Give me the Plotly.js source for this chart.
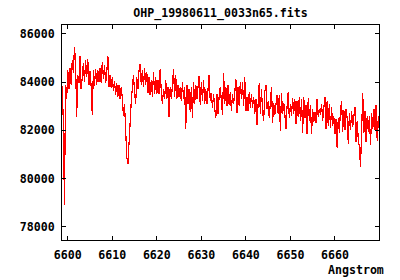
<!DOCTYPE html>
<html>
<head>
<meta charset="utf-8">
<script src="https://cdn.plot.ly/plotly-3.0.1.min.js"></script>
<style>
html,body{margin:0;padding:0;background:#fff;}
#chart{width:400px;height:280px;}
#chart .js-line{shape-rendering:crispEdges;}
#chart .xaxislayer-above text, #chart .yaxislayer-above text{text-rendering:optimizeSpeed;}
</style>
</head>
<body>
<div id="chart"></div>
<script>
// Spectrum sampling (FITS-style linear wavelength grid)
const CRVAL1 = 6598.75;   // Angstrom of first sample
const CDELT1 = 0.25;      // Angstrom per sample

// Flux values
const flux = [
  83850, 82300, 78900, 83880, 83300, 84500, 83700, 84580, 83900, 84900,
  84400, 85450, 84800, 82570, 84300, 83950, 85100, 83700, 84200, 84800,
  84000, 84900, 84200, 84950, 83900, 84450, 83800, 82650, 84500, 83850,
  84550, 83900, 84500, 84000, 84600, 83950, 84850, 84150, 84700, 83950,
  84400, 85100, 83800, 84300, 83750, 84200, 83650, 84050, 83450, 83950,
  83400, 83900, 83300, 83800, 83350, 82600, 83100, 81700, 80900, 80600,
  81300, 82300, 83200, 83800, 84300, 83600, 83100, 84200, 83700, 84500,
  84750, 83900, 84500, 83800, 84600, 83900, 84400, 83550, 84200, 83450,
  84100, 83400, 84400, 83500, 84200, 83500, 84100, 83500, 84550, 83600,
  83100, 83700, 83300, 84100, 83300, 83800, 82550, 83800, 83300, 83850,
  84550, 83400, 84300, 83300, 83900, 83400, 83800, 83200, 84000, 83300,
  83800, 82050, 83900, 83100, 83700, 82750, 83800, 82500, 84000, 83100,
  83900, 83300, 83800, 84270, 83050, 84000, 83200, 84100, 83100, 83700,
  83100, 83600, 84300, 83200, 83550, 82950, 83500, 82900, 82530, 83500,
  82700, 83400, 83800, 83200, 82650, 84400, 83100, 83800, 83000, 83900,
  83050, 83600, 82800, 83500, 83100, 83550, 84150, 82700, 83800, 83000,
  84000, 83300, 84000, 83000, 84200, 82800, 83400, 82800, 83600, 82950,
  83500, 82950, 83400, 82700, 83300, 82220, 83300, 83980, 82700, 83700,
  82800, 82400, 83600, 83880, 82900, 83200, 82500, 83300, 83800, 82300,
  83150, 82650, 83200, 83450, 82700, 83450, 81980, 83550, 82700, 83150,
  82700, 82050, 83000, 83600, 82500, 83100, 82600, 83350, 82700, 83300,
  82250, 83200, 82550, 83400, 82400, 83300, 81900, 83400, 82500, 83050,
  81850, 83330, 82400, 83050, 81850, 82900, 82350, 82750, 82300, 83300,
  82550, 82900, 82650, 83100, 82400, 83050, 83400, 82050, 83200, 82200,
  83100, 82100, 82950, 82200, 82600, 81850, 82450, 81250, 82500, 81900,
  82900, 83200, 81950, 82850, 82000, 82900, 82500, 81450, 82700, 82000,
  82800, 82150, 82600, 82980, 81500, 82400, 81600, 81300, 80470, 82500,
  83560, 81900, 82800, 81500, 82600, 81950, 82600, 81400, 82700, 82050,
  82900, 82000, 83050, 81550, 82600, 81900
];

const wavelength = flux.map((_, i) => CRVAL1 + i * CDELT1);

const yTicks = [78000, 80000, 82000, 84000, 86000];
const xTicks = [6600, 6610, 6620, 6630, 6640, 6650, 6660];

const titleText = "OHP_19980611_0033n65.fits";
const xLabel = "Angstrom";

const FONT = "'DejaVu Sans Mono', 'Liberation Mono', monospace";
const fnt = {family: FONT, size: 11.6, color: "#000", weight: "bold"};

const trace = {
  x: wavelength,
  y: flux,
  type: "scatter",
  mode: "lines",
  line: {color: "#ff0000", width: 1.2},
  hoverinfo: "skip"
};

const layout = {
  width: 400,
  height: 280,
  margin: {l: 62, r: 21, t: 25, b: 40, pad: 0},
  paper_bgcolor: "#ffffff",
  plot_bgcolor: "#ffffff",
  showlegend: false,
  font: fnt,
  title: {text: titleText, font: fnt, x: 0.5, xref: "paper", xanchor: "center", y: 1, yref: "container", yanchor: "top", pad: {t: 9}},
  xaxis: {
    range: [6598.7, 6669.9],
    tickvals: xTicks,
    ticktext: xTicks.map(String),
    ticks: "inside",
    ticklen: 4,
    tickwidth: 1,
    tickcolor: "#000",
    showline: true,
    linecolor: "#000",
    linewidth: 1,
    mirror: "ticks",
    showgrid: false,
    zeroline: false,
    tickfont: fnt,
    ticklabelstandoff: 4
  },
  yaxis: {
    range: [77448, 86373],
    tickvals: yTicks,
    ticktext: yTicks.map(String),
    ticks: "inside",
    ticklen: 4,
    tickwidth: 1,
    tickcolor: "#000",
    showline: true,
    linecolor: "#000",
    linewidth: 1,
    mirror: "ticks",
    showgrid: false,
    zeroline: false,
    tickfont: fnt,
    ticklabelstandoff: 4
  },
  annotations: [{
    text: xLabel,
    xref: "paper", yref: "paper",
    x: 1.021, y: -0.14,
    xanchor: "right", yanchor: "middle",
    showarrow: false,
    font: fnt
  }]
};

Plotly.newPlot("chart", [trace], layout, {staticPlot: true, displayModeBar: false});
</script>
</body>
</html>
